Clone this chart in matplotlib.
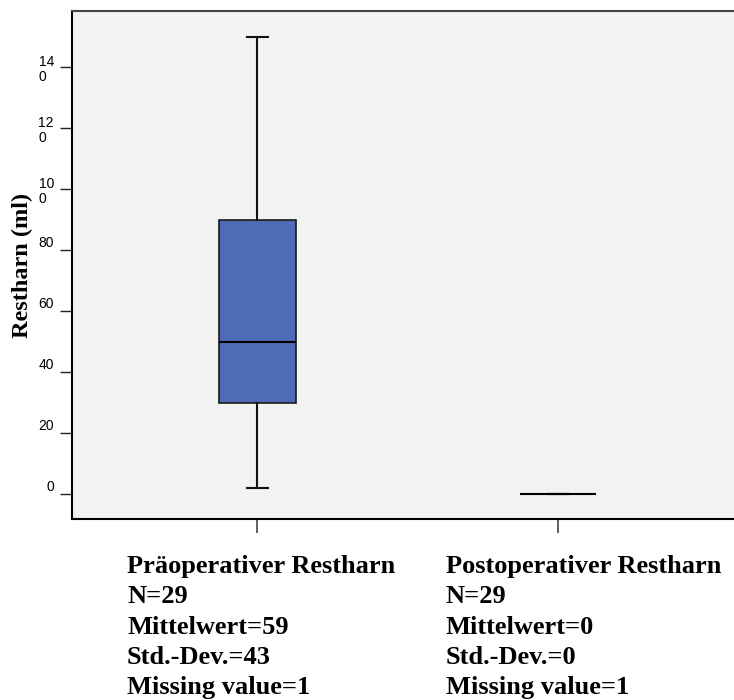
import matplotlib
matplotlib.use("Agg")
import matplotlib.pyplot as plt

# ---- data ----
groups = ["Präoperativer Restharn", "Postoperativer Restharn"]
whislo = [2, 0]
q1 = [30, 0]
med = [50, 0]
q3 = [90, 0]
whishi = [150, 0]
n_vals = [29, 29]
means = [59, 0]
stds = [43, 0]
missing = [1, 1]
ytick_vals = [0, 20, 40, 60, 80, 100, 120, 140]
ytick_labels = ["0", "20", "40", "60", "80", "10\n0", "12\n0", "14\n0"]
ylabel = "Restharn (ml)"

W, H = 734, 700
fig = plt.figure(figsize=(W / 100, H / 100), dpi=100)
ax = fig.add_axes([72 / W, 1 - 519 / H, 1 - 72 / W + 0.01, (519 - 11) / H])
ax.set_facecolor("#F2F2F2")

stats = []
for i, g in enumerate(groups):
    stats.append(dict(label=g, whislo=whislo[i], q1=q1[i], med=med[i],
                      q3=q3[i], whishi=whishi[i], fliers=[]))

positions = [1, 2]
ax.bxp(stats, positions=positions, widths=0.255, capwidths=0.07,
       showfliers=False, patch_artist=True,
       boxprops=dict(facecolor="#4F6BB8", edgecolor="#1a1a1a", linewidth=1.2),
       medianprops=dict(color="black", linewidth=1.5),
       whiskerprops=dict(color="#111111", linewidth=1.5),
       capprops=dict(color="#111111", linewidth=1.5))

ax.set_xlim(0.384, 2.576 + 0.033)
ax.set_ylim(-8.2, 158.4)

ax.set_yticks(ytick_vals)
ax.set_yticklabels(ytick_labels, fontsize=10, family="Liberation Sans",
                   linespacing=1.1)
for lab in ax.get_yticklabels():
    if "\n" not in lab.get_text():
        lab.set_va("bottom")
    lab.set_multialignment("left")
ax.tick_params(axis="y", length=9, width=1, color="#222222", pad=4)
ax.set_xticks(positions)
ax.set_xticklabels(["", ""])
ax.tick_params(axis="x", length=10, width=1.2, color="#444444")

for side in ["left", "bottom"]:
    ax.spines[side].set_color("black")
    ax.spines[side].set_linewidth(1.5)
ax.spines["top"].set_color("#444444")
ax.spines["top"].set_linewidth(1.5)
ax.spines["right"].set_visible(False)

ax.set_ylabel(ylabel, fontsize=17.5, fontweight="bold", family="Liberation Serif")
ax.yaxis.set_label_coords(-0.058, 0.5)

text_x = [127 / W, 446 / W]
for i, g in enumerate(groups):
    lines = [g, f"N={n_vals[i]}", f"Mittelwert={means[i]}",
             f"Std.-Dev.={stds[i]}", f"Missing value={missing[i]}"]
    for j, line in enumerate(lines):
        fig.text(text_x[i], 1 - (573 + j * 30.25) / H, line, ha="left",
                 va="baseline", fontsize=19, fontweight="bold",
                 family="Liberation Serif")

fig.savefig("out.png", dpi=100)
